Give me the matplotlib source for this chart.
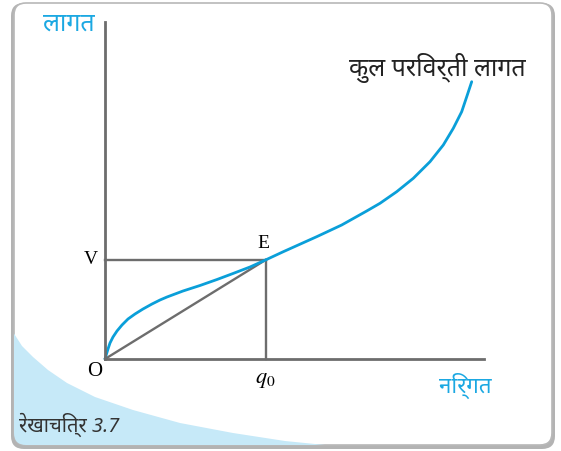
# encoding: utf-8

import matplotlib

matplotlib.use('Agg')
import matplotlib.pyplot as plt
from matplotlib import font_manager
from matplotlib.ft2font import FT2Font
from matplotlib.patches import FancyBboxPatch, Polygon

# values (output q, total variable cost)
output_q = [0, 0.15, 0.3, 0.5, 0.8, 1.2, 1.7, 2.3, 3.0, 3.8, 4.7, 5.5, 6.2,
            7.8, 9.5, 11.2, 12.8, 14.5, 16.05, 17.83, 21.17, 23.67, 26.17,
            27.5, 29.17, 30.83, 32.5, 33.83, 34.83, 35.67, 36.23, 36.67]
total_vc = [0, 0.5, 1.0, 1.6, 2.2, 2.8, 3.4, 4.0, 4.5, 5.0, 5.5, 5.9, 6.2,
            6.8, 7.35, 7.95, 8.55, 9.2, 9.9, 10.73, 12.23, 13.4, 14.8,
            15.57, 16.73, 18.07, 19.73, 21.4, 23.07, 24.73, 26.4, 27.73]
q0 = 16.05
V = 9.9
x_max = 37.9
y_max = 33.7

curve_label = "कुल परिवर्ती लागत"
y_label = "लागत"
x_label = "निर्गत"
fig_label = "रेखाचित्र 3.7"

BLUE = '#0a9fd9'
LBLUE = '#1ba8e2'
GRAY = '#6d6d6d'


def devanagari_family():
    # look for an installed font that has Devanagari glyphs
    found = []
    for f in font_manager.fontManager.ttflist:
        try:
            if 0x0915 in FT2Font(f.fname).get_charmap():
                found.append(f.name)
        except Exception:
            pass
    for name in found:
        if 'Noto' in name:
            return name
    return found[0] if found else 'DejaVu Sans'


hin = [devanagari_family(), 'DejaVu Sans']
serif = ['Liberation Serif', 'DejaVu Serif']
plt.rcParams['mathtext.fontset'] = 'stix'

W, H = 561, 451
fig = plt.figure(figsize=(W / 100, H / 100), dpi=100)

# background frame in pixel coordinates
bg = fig.add_axes([0, 0, 1, 1])
bg.set_xlim(0, W)
bg.set_ylim(H, 0)
bg.axis('off')
shadow = FancyBboxPatch((11, 3), 544, 446, boxstyle='round,pad=0,rounding_size=13',
                        fc='#b3b3b3', ec='none')
bg.add_patch(shadow)
frame = FancyBboxPatch((14, 3), 538, 442, boxstyle='round,pad=0,rounding_size=12',
                       fc='white', ec='#b8b8b8', lw=1.2)
bg.add_patch(frame)
wedge = Polygon([(13, 332), (22, 346), (33, 357), (48, 370), (67, 383), (95, 397),
                 (133, 410), (180, 423), (233, 433), (285, 441), (345, 447),
                 (345, 450), (13, 450)], closed=True, fc='#c6e9f8', ec='none')
bg.add_patch(wedge)
wedge.set_clip_path(frame)

# chart axes, origin at the corner of the axes
ax = fig.add_axes([105 / W, (H - 359) / H, (484 - 105) / W, (359 - 22) / H])
ax.patch.set_visible(False)
ax.set_xlim(0, x_max)
ax.set_ylim(0, y_max)
for s in ['top', 'right']:
    ax.spines[s].set_visible(False)
for s in ['left', 'bottom']:
    ax.spines[s].set_color(GRAY)
    ax.spines[s].set_linewidth(2.0)
ax.set_xticks([])
ax.set_yticks([])

ax.plot([0, q0], [V, V], color=GRAY, lw=1.7, clip_on=False)
ax.plot([q0, q0], [0, V], color=GRAY, lw=1.7, clip_on=False)
ax.plot([0, q0], [0, V], color=GRAY, lw=1.7, clip_on=False)
ax.plot(output_q, total_vc, color=BLUE, lw=2.0, clip_on=False,
        solid_capstyle='round', solid_joinstyle='round')

ax.text(-1.0, -1.3, "O", family=serif, fontsize=15, ha='center', va='center')
ax.text(-1.4, V, "V", family=serif, fontsize=14, ha='center', va='center')
ax.text(q0 - 0.2, V + 1.6, "E", family=serif, fontsize=14, ha='center', va='center')
ax.text(q0, -2.1, r'$q_{\rm 0}$', fontsize=16, ha='center', va='center')

fig.text(69 / W, 1 - 24 / H, y_label, family=hin, fontsize=18, color=LBLUE,
         ha='center', va='center')
fig.text(526 / W, 1 - 68 / H, curve_label, family=hin, fontsize=18, color='#222222',
         ha='right', va='center')
fig.text(465 / W, 1 - 386 / H, x_label, family=hin, fontsize=16, color=LBLUE,
         ha='center', va='center')
fig.text(19 / W, 1 - 425 / H, fig_label, family=hin, fontsize=14.5, color='#333333',
         fontweight='bold', fontstyle='italic', ha='left', va='center')

fig.savefig('out.png', dpi=100)
